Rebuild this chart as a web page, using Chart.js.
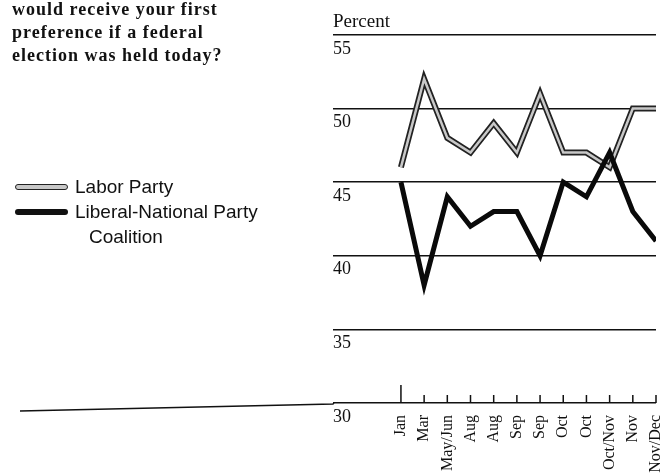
<!DOCTYPE html>
<html>
<head>
<meta charset="utf-8">
<script src="https://cdn.jsdelivr.net/npm/chart.js@4.4.1/dist/chart.umd.min.js"></script>
<style>
html, body { margin: 0; padding: 0; background: #fff; overflow: hidden; }
#wrap { position: relative; width: 660px; height: 473px; }
#question {
    position: absolute; left: 12px; top: -2px;
    font: bold 18px "Liberation Serif", serif; letter-spacing: 1px;
    line-height: 23px; color: #111;
}
#legend {
    position: absolute; left: 15px; top: 174px;
    font: 19px "Liberation Sans", sans-serif; line-height: 25px; color: #111;
}
.item { display: flex; align-items: center; white-space: nowrap; }
.swatch { width: 53px; margin-right: 7px; border-radius: 3px; box-sizing: border-box; }
.labor { height: 6px; background: #c8c8c8; border: 1.5px solid #222; }
.coalition { height: 6px; background: #111; }
.indent { padding-left: 74px; }
</style>
</head>
<body>
<div id="wrap">
    <canvas id="chart" width="660" height="473"></canvas>
    <div id="question">would receive your first<br>preference if a federal<br>election was held today?</div>
    <div id="legend">
        <div class="item"><span class="swatch labor"></span>Labor Party</div>
        <div class="item"><span class="swatch coalition"></span>Liberal-National Party</div>
        <div class="indent">Coalition</div>
    </div>
</div>
<script>
"use strict";

// Survey periods (x axis)
const months = ['Jan', 'Mar', 'May/Jun', 'Aug', 'Aug', 'Sep', 'Sep', 'Oct', 'Oct', 'Oct/Nov', 'Nov', 'Nov/Dec'];

// Percent values
const laborValues = [46, 52, 48, 47, 49, 47, 51, 47, 47, 46, 50, 50];
const coalitionValues = [45, 38, 44, 42, 43, 43, 40, 45, 44, 47, 43, 41];

// Y axis ticks
const yTicks = [30, 35, 40, 45, 50, 55];

const toPoints = values => values.map((v, i) => ({ x: i, y: v }));

// Tick marks that stand up from the base line, and the base line running left
const axisMarks = {
    id: 'axisMarks',
    beforeDatasetsDraw: chart => {
        const { ctx, chartArea, scales: { x, y } } = chart;
        const base = y.getPixelForValue(yTicks[0]);
        ctx.save();
        ctx.strokeStyle = '#111';
        ctx.lineWidth = 1.5;
        ctx.beginPath();
        ctx.moveTo(20, base + 8);
        ctx.lineTo(chartArea.left, base + 1);
        ctx.lineTo(chartArea.left + 1, base);
        months.forEach((m, i) => {
            const px = x.getPixelForValue(i);
            ctx.moveTo(px, base);
            ctx.lineTo(px, base - (i === 0 ? 18 : 8));
        });
        ctx.stroke();
        ctx.restore();
    }
};

const lineStyle = { tension: 0, pointRadius: 0, fill: false, borderJoinStyle: 'miter' };

new Chart(document.getElementById('chart').getContext('2d'), {
    type: 'line',
    data: {
        datasets: [
            { label: 'Liberal-National Party Coalition', data: toPoints(coalitionValues), borderColor: '#0a0a0a', borderWidth: 5, ...lineStyle },
            { label: 'Labor Party', data: toPoints(laborValues), borderColor: '#c8c8c8', borderWidth: 2.5, ...lineStyle },
            { label: 'Labor Party outline', data: toPoints(laborValues), borderColor: '#222', borderWidth: 6, ...lineStyle },
        ]
    },
    options: {
        responsive: false,
        animation: false,
        devicePixelRatio: 1,
        layout: { padding: { left: 333, right: 4, top: 0, bottom: 0 } },
        plugins: {
            legend: { display: false },
            tooltip: { enabled: false },
            title: {
                display: true,
                text: 'Percent',
                align: 'start',
                color: '#111',
                font: { family: '"Liberation Serif", serif', size: 19, weight: 'normal' },
                padding: { top: 11, bottom: 1 }
            }
        },
        scales: {
            x: {
                type: 'linear',
                min: -2.93,
                max: months.length - 1,
                afterBuildTicks: scale => { scale.ticks = months.map((m, i) => ({ value: i })); },
                afterFit: scale => { scale.height = 70; scale.paddingLeft = 0; scale.paddingRight = 0; },
                grid: { display: false },
                border: { display: false },
                ticks: {
                    callback: value => months[value],
                    minRotation: 90,
                    maxRotation: 90,
                    autoSkip: false,
                    padding: 4,
                    color: '#111',
                    font: { family: '"Liberation Serif", serif', size: 16 }
                }
            },
            y: {
                min: yTicks[0],
                max: yTicks[yTicks.length - 1],
                afterBuildTicks: scale => { scale.ticks = yTicks.map(v => ({ value: v })); },
                grid: { color: '#111', lineWidth: 1.5, drawTicks: false },
                border: { display: false },
                ticks: {
                    mirror: true,
                    padding: 0,
                    labelOffset: 14,
                    color: '#111',
                    font: { family: '"Liberation Serif", serif', size: 18 }
                }
            }
        }
    },
    plugins: [axisMarks]
});
</script>
</body>
</html>
